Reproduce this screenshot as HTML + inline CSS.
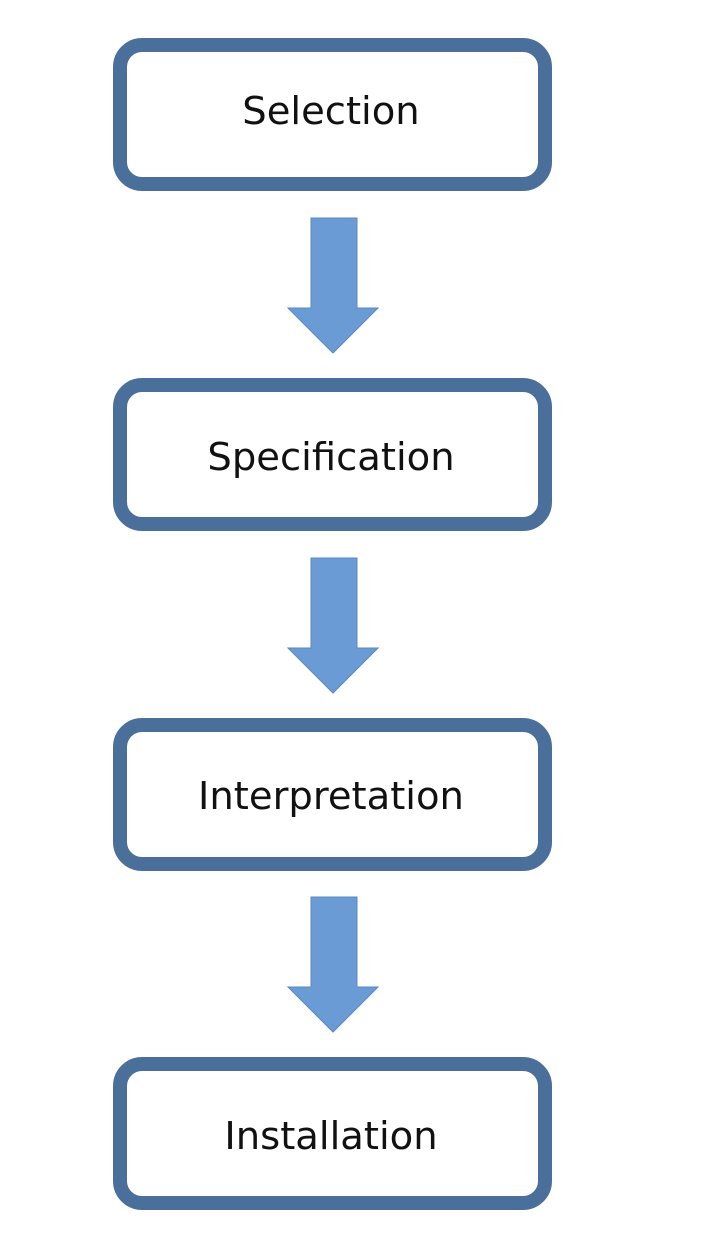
<!DOCTYPE html>
<html><head><style>
body{margin:0;width:718px;height:1252px;background:#fff;overflow:hidden}
</style></head><body>
<svg width="718" height="1252" xmlns="http://www.w3.org/2000/svg">
<g fill="#fff" stroke="#4a6f9a" stroke-width="14">
<rect x="120" y="45" width="425" height="139" rx="22"/>
<rect x="120" y="385" width="425" height="139" rx="22"/>
<rect x="120" y="725" width="425" height="139" rx="22"/>
<rect x="120" y="1064" width="425" height="139" rx="22"/>
</g>
<g fill="#6a9bd4" stroke="#5a88bf" stroke-width="1">
<polygon points="311,218 357,218 357,308 378,308 333,353 288,308 311,308"/>
<polygon points="311,558 357,558 357,648 378,648 333,693 288,648 311,648"/>
<polygon points="311,897 357,897 357,987 378,987 333,1032 288,987 311,987"/>
</g>
<g font-family="DejaVu Sans, sans-serif" font-size="38.5" fill="#111" text-anchor="middle">
<text x="331" y="124">Selection</text>
<text x="331" y="470">Specification</text>
<text x="331" y="809">Interpretation</text>
<text x="331" y="1149">Installation</text>
</g>
</svg>
</body></html>
